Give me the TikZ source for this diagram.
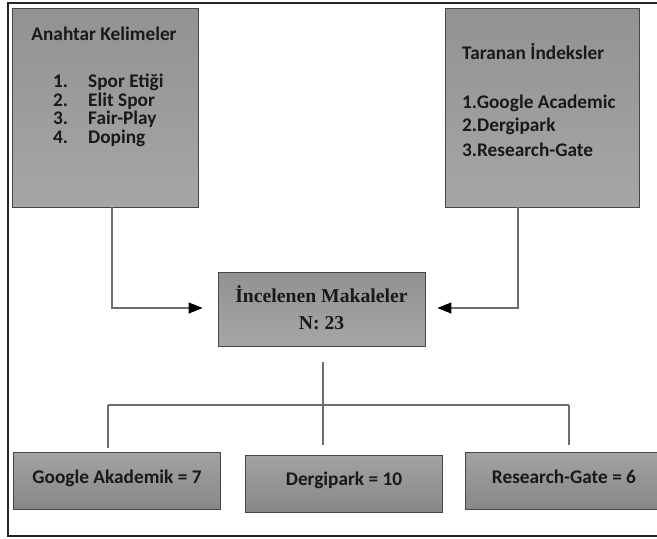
\documentclass[tikz,border=0pt]{standalone}
\usepackage{fontspec}
\setmainfont{Carlito}
\newfontfamily\tnr{Liberation Serif}
\usetikzlibrary{arrows.meta,calc}
\definecolor{boxtop}{RGB}{146,146,146}
\definecolor{boxbot}{RGB}{166,166,166}
\definecolor{lowtop}{RGB}{162,162,162}
\definecolor{lowbot}{RGB}{136,136,136}
\definecolor{edge}{RGB}{70,70,70}
\definecolor{conncol}{RGB}{110,110,110}
\definecolor{txt}{RGB}{25,25,25}
\tikzset{
  box/.style={draw=edge, line width=0.8pt, top color=boxtop, bottom color=boxbot, minimum width=#1, inner sep=0pt},
  lowbox/.style={draw=edge, line width=0.8pt, top color=lowtop, bottom color=lowbot, minimum width=#1, minimum height=57pt, inner sep=0pt},
  lbl/.style={anchor=base, inner sep=0pt, text=txt, font=\fontsize{19.3}{22}\selectfont\bfseries},
  lbll/.style={anchor=base west, inner sep=0pt, text=txt, font=\fontsize{19.3}{22}\selectfont\bfseries},
  serlbl/.style={anchor=base, inner sep=0pt, text=txt, font=\fontsize{19.7}{22}\selectfont\tnr\bfseries},
  conn/.style={draw=conncol, line width=1.2pt},
  arr/.style={conn, -{Triangle[length=14pt, width=11pt, color=black, fill=black]}},
  frame/.style={draw=black!85, line width=1.5pt}
}
\begin{document}
\begin{tikzpicture}[x=1pt, y=-1pt]
\useasboundingbox (0,0) rectangle (657,539);
% outer frame (right side cut off)
\draw[frame] (670,3) -- (8,3) -- (8,536) -- (670,536);

% boxes
\node[box=186pt, minimum height=199pt] (lbox) at (105,107.5) {};
\node[box=194pt, minimum height=199pt] (rbox) at (542,107.5) {};
\node[box=207pt, minimum height=74pt] (cbox) at (321.5,309) {};
\node[lowbox=207pt] (gbox) at (116.5,480.5) {};
\node[lowbox=197pt] (dbox) at (343.5,483.5) {};
\node[lowbox=198pt] (qbox) at (564,480.5) {};

% left box text
\node[lbl] (ltitle) at (104,40) {Anahtar Kelimeler};
\node[lbll] (ln1) at (53,87) {1.};
\node[lbll] (lt1) at (88,87) {Spor Etiği};
\node[lbll] (ln2) at (53,106) {2.};
\node[lbll] (lt2) at (88,106) {Elit Spor};
\node[lbll] (ln3) at (53,124) {3.};
\node[lbll] (lt3) at (88,124) {Fair-Play};
\node[lbll] (ln4) at (53,143) {4.};
\node[lbll] (lt4) at (88,143) {Doping};

% right box text
\node[lbll] (rtitle) at (462,59) {Taranan İndeksler};
\node[lbll] (r1) at (462,108) {1.Google Academic};
\node[lbll] (r2) at (462,131) {2.Dergipark};
\node[lbll] (r3) at (462,156) {3.Research-Gate};

% center box text
\node[serlbl] (c1) at (321.5,302) {İncelenen Makaleler};
\node[serlbl] (c2) at (321.5,329) {N: 23};

% bottom box texts
\node[lbl] (gt) at (117,483) {Google Akademik = 7};
\node[lbl] (dt) at (344,485) {Dergipark = 10};
\node[lbl] (qt) at (564,483) {Research-Gate = 6};

% connectors
\coordinate (lk) at (112,308);
\coordinate (rk) at (518,308);
\draw[arr] (lbox.south -| lk) -- (lk) -- ([xshift=-15pt]cbox.west |- lk);
\draw[arr] (rbox.south -| rk) -- (rk) -- ([xshift=12pt]cbox.east |- rk);

\coordinate (hl) at (108,405);
\coordinate (hr) at (569,405);
\coordinate (hm) at (323,405);
\draw[conn] (hl) -- (hr);
\draw[conn] ([yshift=-16pt]cbox.south -| hm) -- ([yshift=10pt]dbox.north -| hm);
\draw[conn] (hl) -- ([yshift=4pt]gbox.north -| hl);
\draw[conn] (hr) -- ([yshift=7pt]qbox.north -| hr);
\end{tikzpicture}
\end{document}
